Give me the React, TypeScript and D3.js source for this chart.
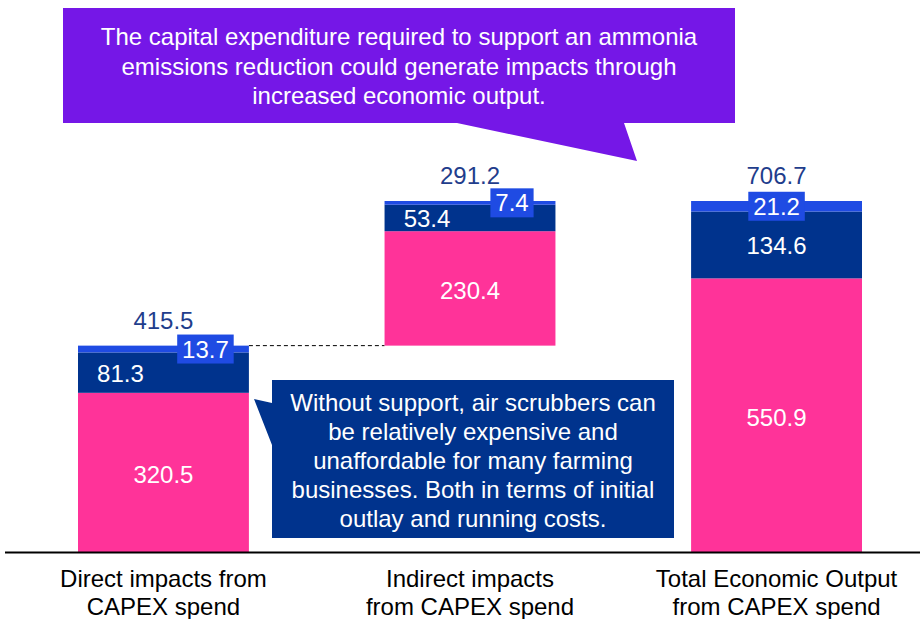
import React from "react";
import * as d3 from "d3";

const categories: string[][] = [
  ["Direct impacts from", "CAPEX spend"],
  ["Indirect impacts", "from CAPEX spend"],
  ["Total Economic Output", "from CAPEX spend"],
];
const baseValues = [0, 415.5, 0];
const pinkValues = [320.5, 230.4, 550.9];
const navyValues = [81.3, 53.4, 134.6];
const blueValues = [13.7, 7.4, 21.2];
const totalLabels = ["415.5", "291.2", "706.7"];

const callout1Lines = [
  "The capital expenditure required to support an ammonia",
  "emissions reduction could generate impacts through",
  "increased economic output.",
];
const callout2Lines = [
  "Without support, air scrubbers can",
  "be relatively expensive and",
  "unaffordable for many farming",
  "businesses. Both in terms of initial",
  "outlay and running costs.",
];

const PINK = "#FF3399";
const NAVY = "#00338D";
const BLUE = "#1F4BE3";
const PURPLE = "#7517E7";
const LABEL = "#1F3D8C";
const FONT = "'Liberation Sans', Arial, Helvetica, sans-serif";

export default function App() {
  const W = 920, H = 619;
  const idx = categories.map((_, i) => String(i));
  const x = d3.scaleBand<string>().domain(idx).range([78, 862]).paddingInner(0.4425).paddingOuter(0);
  const y = d3.scaleLinear().domain([0, 706.7]).range([552, 201]);
  const bw = x.bandwidth();

  const bars = idx.map((k, i) => {
    const x0 = x(k)!;
    const cx = x0 + bw / 2;
    const b = baseValues[i];
    const p1 = b + pinkValues[i];
    const n1 = p1 + navyValues[i];
    const t1 = n1 + blueValues[i];
    const side = i < 2 ? 42 : 0;
    const navySide = i < 2 ? -43 : 0;
    const blueLabel = String(blueValues[i]);
    const boxW = blueLabel.length * 13.3 + 6 - (blueLabel.includes(".") ? 6.7 : 0) + 4;
    return (
      <g key={k}>
        <rect x={x0} y={y(p1)} width={bw} height={y(b) - y(p1)} fill={PINK} />
        <rect x={x0} y={y(n1)} width={bw} height={y(p1) - y(n1)} fill={NAVY} />
        <rect x={x0} y={y(t1)} width={bw} height={y(n1) - y(t1)} fill={BLUE} />
        <text x={cx} y={(y(b) + y(p1)) / 2 + 10.5} textAnchor="middle" fill="#fff" fontSize={24}>{pinkValues[i]}</text>
        <text x={cx + navySide} y={(y(p1) + y(n1)) / 2 + 9} textAnchor="middle" fill="#fff" fontSize={24}>{navyValues[i]}</text>
        <rect x={cx + side - boxW / 2} y={(y(n1) + y(t1)) / 2 - 14.5} width={boxW} height={29} fill={BLUE} />
        <text x={cx + side} y={(y(n1) + y(t1)) / 2 + 8.5} textAnchor="middle" fill="#fff" fontSize={24}>{blueLabel}</text>
        <text x={cx} y={y(t1) - 17} textAnchor="middle" fill={LABEL} fontSize={24}>{totalLabels[i]}</text>
        {categories[i].map((line, j) => (
          <text key={j} x={cx} y={587 + j * 27.5} textAnchor="middle" fill="#000" fontSize={24}>{line}</text>
        ))}
      </g>
    );
  });

  const yConn = y(baseValues[1]);
  const connX1 = x("0")! + bw;
  const connX2 = x("1")!;

  return (
    <svg width={W} height={H} style={{ position: "absolute", left: 0, top: 0, display: "block", fontFamily: FONT }}>
      <rect width={W} height={H} fill="#fff" />
      <line x1={connX1} x2={connX2} y1={yConn} y2={yConn} stroke="#000" strokeWidth={1} strokeDasharray="4,3" />
      {bars}
      <line x1={5} x2={920} y1={552.5} y2={552.5} stroke="#000" strokeWidth={2} />
      {/* purple callout */}
      <path d="M63,8 H735 V123 H624 L637,161 L457,123 H63 Z" fill={PURPLE} />
      {callout1Lines.map((l, j) => (
        <text key={j} x={399} y={45 + j * 29.5} textAnchor="middle" fill="#fff" fontSize={24}>{l}</text>
      ))}
      {/* navy callout */}
      <path d="M272,380 H674 V538 H272 V445 L254,399 L272,403 Z" fill={NAVY} />
      {callout2Lines.map((l, j) => (
        <text key={j} x={473} y={411 + j * 29} textAnchor="middle" fill="#fff" fontSize={24}>{l}</text>
      ))}
    </svg>
  );
}
